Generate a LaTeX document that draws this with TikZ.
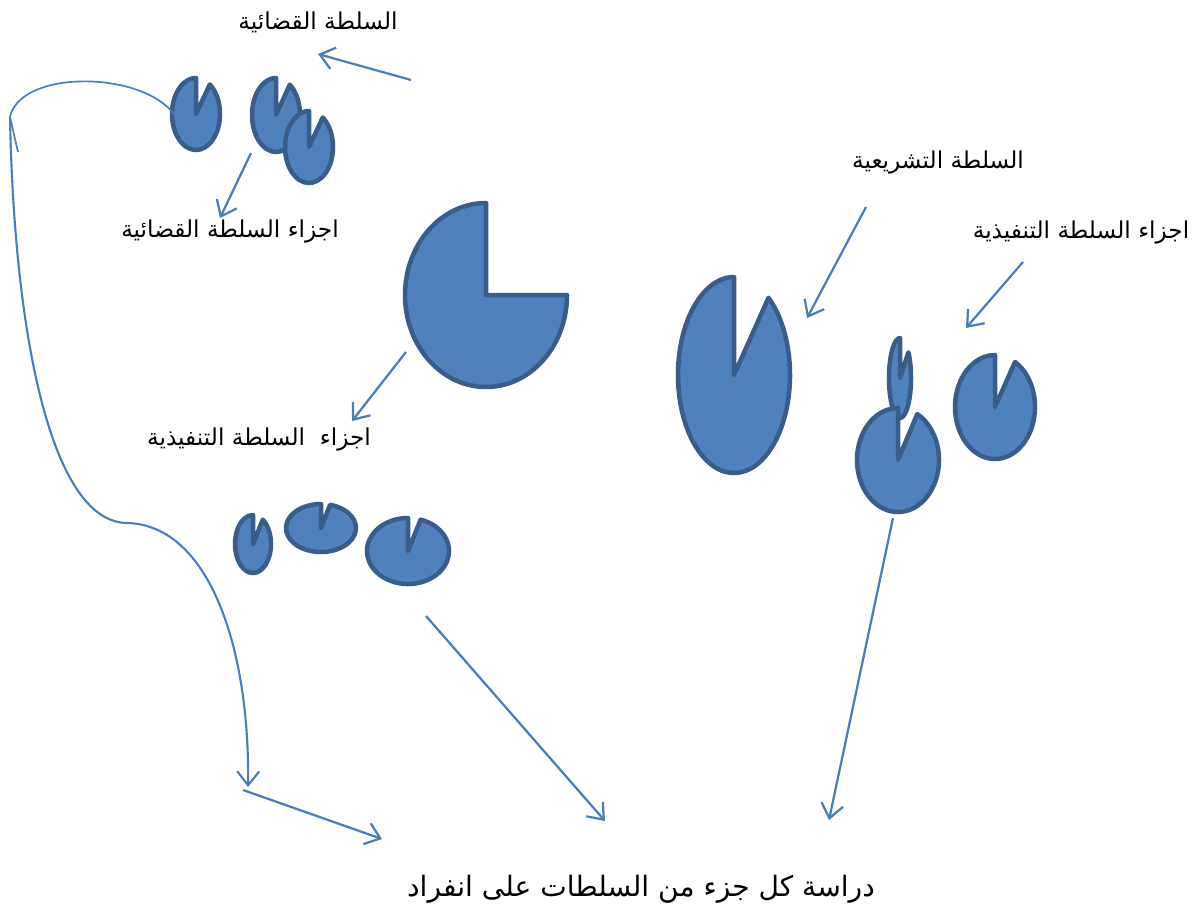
\documentclass[tikz,border=0pt]{standalone}
\usepackage{fontspec}
\usetikzlibrary{arrows.meta}
\TeXXeTstate=1
\newfontfamily\arabicfont[Script=Arabic]{DejaVu Sans}
\definecolor{pacfill}{HTML}{4F81BD}
\definecolor{pacline}{HTML}{385D8A}
\definecolor{arrblue}{HTML}{4A7EBB}
\tikzset{
  pac/.style={fill=pacfill,draw=pacline,line width=3.2pt,line join=round},
  conn/.style={draw=arrblue,line width=1.6pt,-{Straight Barb[length=3.5mm,width=5.5mm,line width=1.6pt]}},
  thinconn/.style={draw=arrblue,line width=1.2pt},
  lbl/.style={font=\arabicfont\fontsize{16.5}{20}\selectfont,inner sep=0pt,text=black},
  biglbl/.style={font=\arabicfont\fontsize{20}{24}\selectfont,inner sep=0pt,text=black}
}
\newcommand\pacman[6]{% name cx cy rx ry angle
  \coordinate (#1) at (#2,#3);
  \filldraw[pac] (#1) -- ++(-#6:#4 and #5) arc[start angle=-#6,end angle=270,x radius=#4,y radius=#5] -- cycle;}
\begin{document}
\begin{tikzpicture}[x=0.025cm,y=-0.025cm]
\useasboundingbox (0,0) rectangle (1200,913);
% judicial parts (top left)
\pacman{j1}{196}{114}{24}{36}{55}
\pacman{j2}{276}{115}{24}{37}{55}
\pacman{j3}{309}{147}{24}{36}{55}
% big pacman
\pacman{big}{486}{295}{81}{92}{0}
% legislative
\pacman{leg}{734}{375}{56}{98}{52}
% executive parts (right)
\pacman{e1}{900}{378}{11}{40}{40}
\pacman{e2}{898}{460}{41}{52}{62}
\pacman{e3}{995}{407}{40}{52}{60}
% bottom group
\pacman{b1}{253}{544}{18}{29}{57}
\pacman{b2}{321}{528}{35}{24}{75}
\pacman{b3}{408}{551}{41}{33}{72}

% labels
\node[lbl] (tJud) at (318,22) {\beginR السلطة القضائية\endR};
\node[lbl] (tJudP) at (230,232) {\beginR اجزاء السلطة القضائية\endR};
\node[lbl] (tExeL) at (259,440) {\beginR اجزاء \ السلطة التنفيذية\endR};
\node[lbl] (tLeg) at (938,163) {\beginR السلطة التشريعية\endR};
\node[lbl] (tExeR) at (1081,233) {\beginR اجزاء السلطة التنفيذية\endR};
\node[biglbl] (tStudy) at (641,889) {\beginR دراسة كل جزء من السلطات على انفراد\endR};

% arrow endpoints
\coordinate (a1s) at (411,80);  \coordinate (a1e) at (318,54);
\coordinate (a2s) at (251,153); \coordinate (a2e) at (220,218);
\coordinate (a3s) at (406,352); \coordinate (a3e) at (352,421);
\coordinate (a4s) at (866,207); \coordinate (a4e) at (807,318);
\coordinate (a5s) at (1023,262); \coordinate (a5e) at (966,328);
\coordinate (a6s) at (426,616); \coordinate (a6e) at (605,821);
\coordinate (a7s) at (893,518); \coordinate (a7e) at (829,820);
\coordinate (a8s) at (243,790); \coordinate (a8e) at (382,839);
\coordinate (cTop) at (10,117); \coordinate (cHook) at (18,152);
\coordinate (cEnd) at (248,787);

\draw[conn] (a1s) -- (a1e);
\draw[conn] (a2s) -- (a2e);
\draw[conn] (a3s) -- (a3e);
\draw[conn] (a4s) -- (a4e);
\draw[conn] (a5s) -- (a5e);
\draw[conn] (a6s) -- (a6e);
\draw[conn] (a7s) -- (a7e);
\draw[conn] (a8s) -- (a8e);

% curved connector on the left
\draw[thinconn] (174,114) .. controls (140,70) and (20,70) .. (cTop) -- (cHook);
\draw[thinconn,line width=1.5pt,-{Straight Barb[length=3.5mm,width=5.5mm,line width=1.5pt]}]
  (cTop) .. controls (14,330) and (50,522) .. (127,523)
  .. controls (210,525) and (250,650) .. (cEnd);
\end{tikzpicture}
\end{document}
